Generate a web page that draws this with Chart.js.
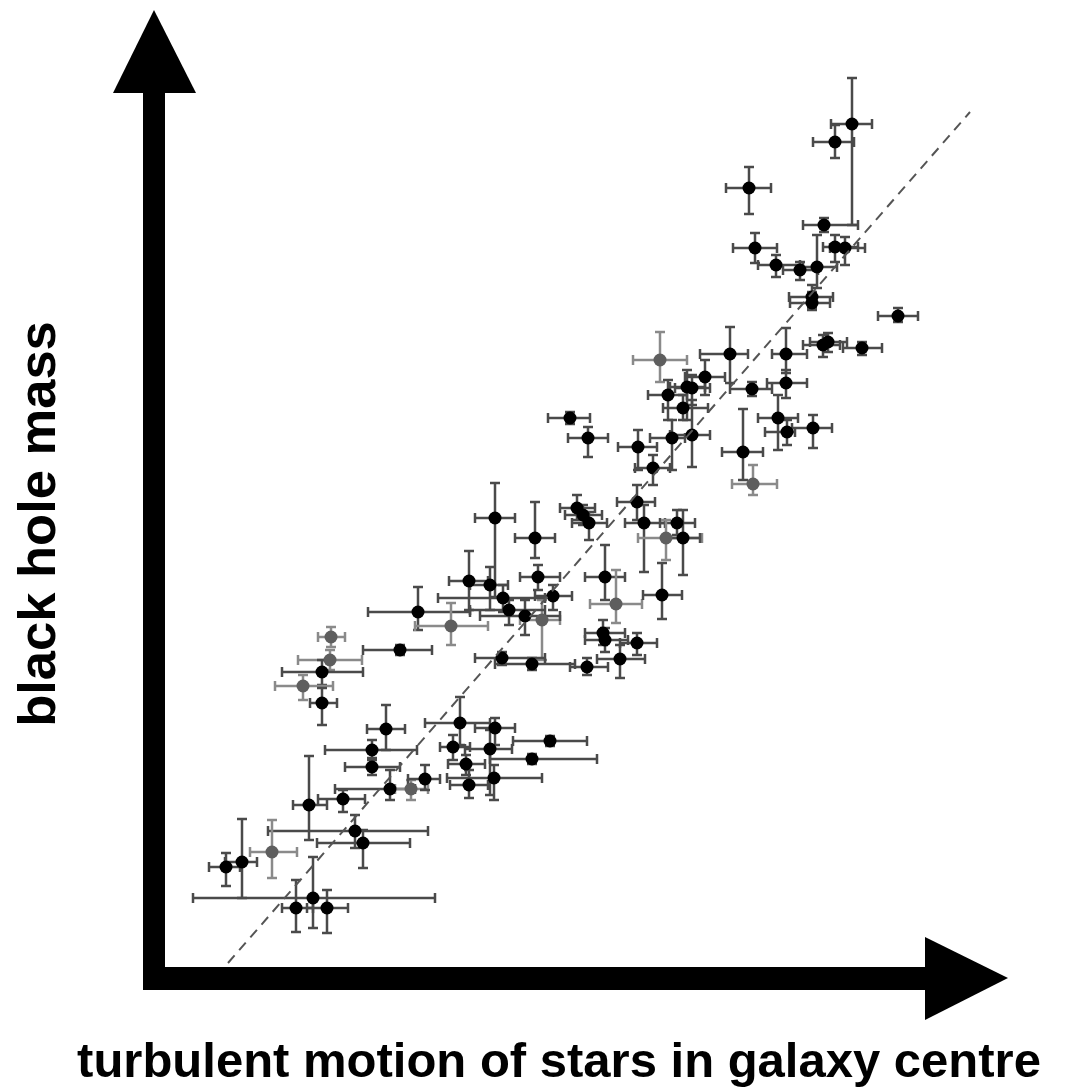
<!DOCTYPE html>
<html>
<head>
<meta charset="utf-8">
<script src="https://cdn.jsdelivr.net/npm/chart.js@4/dist/chart.umd.min.js"></script>
<style>
html, body { margin: 0; padding: 0; background: #fff; }
</style>
</head>
<body>
<canvas id="canvas" width="1083" height="1088"></canvas>
<script>
// velocity dispersion (x) and black hole mass (y, measured downward from top)
var sigma = [852,835,749,824,755,835,845,776,800,817,812,812,898,
    730,786,823,828,862,786,752,778,787,813,743,753,
    660,705,687,692,668,683,570,588,672,692,638,653,
    637,577,583,589,644,677,666,683,605,616,662,553,542,603,605,637,620,587,
    495,535,538,469,490,503,509,525,418,451,400,502,532,
    331,330,322,303,322,386,372,372,390,411,425,343,309,
    460,495,550,453,490,532,466,494,469,
    355,363,272,242,226,313,296,327];
var mass = [124,142,188,225,248,247,248,265,270,267,297,303,316,
    354,354,345,342,348,383,389,418,432,428,452,484,
    360,377,387,388,395,408,418,438,438,435,447,468,
    502,508,515,523,523,523,538,538,577,604,595,596,620,633,640,643,659,667,
    518,538,577,581,585,598,610,616,612,626,650,658,664,
    637,660,672,686,703,729,750,767,789,789,779,799,805,
    723,728,741,747,749,759,764,778,785,
    831,843,852,862,867,898,908,908];
var sigmaLo = [831,813,726,803,733,823,830,758,783,803,789,790,878,
    700,772,803,810,843,767,730,758,765,792,722,732,
    633,685,670,675,648,663,548,568,650,670,618,635,
    617,560,565,572,625,660,638,665,585,590,643,535,520,585,585,620,597,570,
    475,515,520,449,470,438,470,480,368,415,363,475,495,
    318,298,282,275,310,367,325,345,335,395,408,318,293,
    425,475,513,440,465,490,448,447,450,
    268,317,250,225,209,193,282,307];
var sigmaHi = [872,854,771,858,777,858,865,800,818,837,833,830,918,
    748,807,840,847,882,807,772,798,795,832,763,777,
    687,725,705,710,687,708,590,608,685,710,657,670,
    655,595,602,607,665,695,702,700,625,642,682,572,560,625,628,657,645,608,
    515,555,560,488,508,545,545,560,470,488,432,545,575,
    345,362,363,333,337,405,417,400,415,428,440,365,327,
    490,515,587,470,512,597,485,542,488,
    428,410,297,257,240,435,313,348];
var massLo = [78,125,167,218,233,235,237,255,262,235,285,292,308,
    327,328,335,333,342,370,382,395,420,415,409,465,
    332,360,370,375,380,395,412,427,420,400,430,455,
    485,495,505,512,505,510,520,510,545,570,563,585,600,620,628,633,645,658,
    483,502,565,551,567,585,600,600,587,603,645,652,658,
    627,650,660,675,688,705,740,758,770,780,765,790,756,
    697,718,736,735,730,754,755,765,770,
    815,830,820,819,853,857,880,890];
var massHi = [225,158,214,232,263,262,265,277,280,288,308,310,322,
    383,373,357,352,355,398,396,450,445,448,480,495,
    382,395,420,405,420,420,424,457,470,467,470,485,
    520,520,525,540,572,535,560,575,600,623,619,610,660,645,652,655,678,675,
    597,558,590,610,610,612,625,635,630,645,655,665,670,
    647,670,685,700,725,750,760,775,800,800,790,812,840,
    745,745,746,760,795,764,775,800,798,
    848,868,878,898,886,928,932,933];
// galaxies drawn in grey
var faintIdx = [24,25,43,46,49,64,68,69,71,77,92];
// dashed relation
var fitX = [228, 970];
var fitY = [963, 112];

var darkPts = [], greyPts = [];
sigma.forEach(function (s, i) {
    var p = { x: s, y: mass[i] };
    if (faintIdx.indexOf(i) >= 0) greyPts.push(p); else darkPts.push(p);
});

var errorBars = {
    id: "errorBars",
    beforeDatasetsDraw: function (chart) {
        var ctx = chart.ctx, xs = chart.scales.x, ys = chart.scales.y;
        var cap = 5;
        ctx.save();
        ctx.lineWidth = 2.5;
        for (var i = 0; i < sigma.length; i++) {
            ctx.strokeStyle = faintIdx.indexOf(i) >= 0 ? "#8a8a8a" : "#4a4a4a";
            var px = xs.getPixelForValue(sigma[i]), py = ys.getPixelForValue(mass[i]);
            var x0 = xs.getPixelForValue(sigmaLo[i]), x1 = xs.getPixelForValue(sigmaHi[i]);
            var y0 = ys.getPixelForValue(massLo[i]), y1 = ys.getPixelForValue(massHi[i]);
            ctx.beginPath();
            ctx.moveTo(x0, py); ctx.lineTo(x1, py);
            ctx.moveTo(x0, py - cap); ctx.lineTo(x0, py + cap);
            ctx.moveTo(x1, py - cap); ctx.lineTo(x1, py + cap);
            ctx.moveTo(px, y0); ctx.lineTo(px, y1);
            ctx.moveTo(px - cap, y0); ctx.lineTo(px + cap, y0);
            ctx.moveTo(px - cap, y1); ctx.lineTo(px + cap, y1);
            ctx.stroke();
        }
        ctx.restore();
    }
};

var arrowAxes = {
    id: "arrowAxes",
    afterDatasetsDraw: function (chart) {
        var ctx = chart.ctx, xs = chart.scales.x, ys = chart.scales.y;
        function P(x, y) { return [xs.getPixelForValue(x), ys.getPixelForValue(y)]; }
        function poly(pts) {
            ctx.beginPath();
            pts.forEach(function (v, k) {
                var p = P(v[0], v[1]);
                if (k === 0) ctx.moveTo(p[0], p[1]); else ctx.lineTo(p[0], p[1]);
            });
            ctx.closePath();
            ctx.fill();
        }
        ctx.save();
        ctx.fillStyle = "#000";
        // vertical axis + head
        poly([[143, 93], [165, 93], [165, 990], [143, 990]]);
        poly([[113, 93], [154, 10], [196, 93]]);
        // horizontal axis + head
        poly([[143, 967], [925, 967], [925, 990], [143, 990]]);
        poly([[925, 937], [1008, 978], [925, 1020]]);

        ctx.font = 'bold 49px "Liberation Sans", Arial, sans-serif';
        ctx.textAlign = "center";
        ctx.textBaseline = "alphabetic";
        ctx.fillText("turbulent motion of stars in galaxy centre", 559, 1077);
        ctx.translate(55, 524);
        ctx.rotate(-Math.PI / 2);
        ctx.font = 'bold 52.5px "Liberation Sans", Arial, sans-serif';
        ctx.fillText("black hole mass", 0, 0);
        ctx.restore();
    }
};

var config = {
    type: "scatter",
    data: {
        datasets: [
            {
                label: "relation",
                type: "line",
                data: fitX.map(function (x, i) { return { x: x, y: fitY[i] }; }),
                borderColor: "#555",
                borderWidth: 2,
                borderDash: [10, 7],
                pointRadius: 0,
                fill: false
            },
            {
                label: "grey",
                data: greyPts,
                backgroundColor: "#5e5e5e",
                borderWidth: 0,
                pointRadius: 6.5
            },
            {
                label: "galaxies",
                data: darkPts,
                backgroundColor: "#000",
                borderWidth: 0,
                pointRadius: 6.5
            }
        ]
    },
    options: {
        responsive: false,
        animation: false,
        layout: { padding: 0, autoPadding: false },
        plugins: { legend: { display: false }, tooltip: { enabled: false } },
        scales: {
            x: { type: "linear", min: 0, max: 1083, display: false },
            y: { type: "linear", min: 0, max: 1088, reverse: true, display: false }
        }
    },
    plugins: [errorBars, arrowAxes]
};

window.onload = function () {
    var ctx = document.getElementById("canvas").getContext("2d");
    window.myChart = new Chart(ctx, config);
};
</script>
</body>
</html>
